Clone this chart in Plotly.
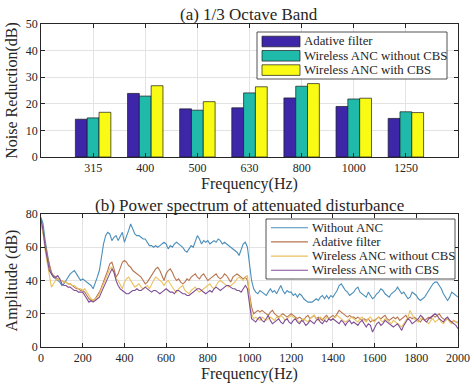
import plotly.graph_objects as go

# ---------------- (a) 1/3 octave band data ----------------
bands = ["315", "400", "500", "630", "800", "1000", "1250"]
adaptive_nr = [14.2, 23.9, 18.1, 18.5, 22.2, 19.0, 14.5]
wireless_nocbs_nr = [14.7, 22.9, 17.6, 24.1, 26.6, 21.8, 17.0]
wireless_cbs_nr = [16.8, 26.8, 20.8, 26.4, 27.6, 22.1, 16.7]

# ---------------- (b) power spectrum data (10 Hz grid) ----------------
freq = list(range(0, 2001, 10))
without_anc = [
    78, 74, 64, 55, 49, 44, 42, 41, 40, 39,
    37, 38, 40, 42, 44, 45, 46, 44, 42, 40,
    41, 40, 39, 38, 37, 35, 38, 42, 46, 55,
    62, 67, 69, 68, 64, 66, 67, 64, 67, 69,
    63, 66, 70, 74, 71, 68, 67, 67, 66, 65,
    65, 63, 61, 61, 60, 61, 60, 61, 62, 63,
    62, 59, 61, 60, 62, 63, 62, 61, 60, 58,
    57, 59, 61, 60, 64, 67, 65, 62, 64, 63,
    64, 62, 63, 64, 63, 65, 64, 62, 63, 62,
    61, 60, 59, 58, 57, 55, 59, 62, 63, 60,
    50, 40, 35, 33, 32, 34, 33, 32, 31, 33,
    35, 33, 34, 32, 35, 37, 34, 32, 34, 33,
    33, 31, 32, 30, 32, 31, 29, 28, 27, 27,
    27, 28, 29, 28, 30, 31, 29, 31, 29, 31,
    30, 32, 34, 37, 38, 36, 34, 33, 31, 32,
    33, 35, 36, 33, 32, 31, 30, 33, 31, 29,
    30, 32, 33, 35, 34, 32, 31, 30, 32, 33,
    34, 36, 34, 32, 33, 31, 29, 30, 33, 32,
    31, 29, 28, 29, 30, 32, 34, 36, 38, 39,
    39, 37, 35, 32, 30, 28, 30, 33, 32, 31,
    30,
]
adaptive_filter = [
    76, 70, 62, 55, 49, 45, 43, 42, 41, 40,
    40, 39, 39, 38, 38, 37, 36, 35, 35, 34,
    34, 33, 31, 29, 28, 28, 29, 31, 33, 36,
    39, 42, 46, 50, 51, 47, 42, 44, 48, 51,
    52, 51, 49, 48, 46, 45, 44, 43, 42, 40,
    38, 39, 41, 43, 45, 47, 48, 46, 43, 40,
    44, 46, 47, 45, 42, 40, 41, 39, 38, 39,
    41, 40, 42, 43, 44, 42, 41, 43, 44, 42,
    40, 41, 42, 43, 44, 42, 41, 42, 44, 43,
    41, 39, 42, 43, 44, 43, 42, 41, 42, 40,
    32, 24, 20, 21, 22, 21, 22, 21, 20, 19,
    21, 22, 20, 19, 18, 19, 20, 19, 18, 19,
    20, 19, 18, 17, 18, 17, 16, 18, 19, 17,
    18, 19, 17, 18, 17, 16, 18, 19, 17, 18,
    19, 18, 20, 22, 21, 20, 19, 18, 19, 18,
    18, 17, 18, 17, 16, 17, 16, 17, 15, 16,
    16, 17, 18, 17, 18, 19, 17, 16, 17, 18,
    17, 18, 16, 17, 18, 19, 17, 18, 17, 18,
    17, 16, 15, 17, 16, 17, 18, 17, 19, 18,
    19, 20, 18, 17, 16, 17, 16, 15, 16, 15,
    15,
]
wireless_nocbs = [
    74, 68, 58, 50, 42, 36, 38, 40, 41, 40,
    40, 39, 39, 38, 38, 37, 37, 36, 35, 35,
    34, 35, 33, 31, 29, 28, 29, 30, 32, 35,
    38, 41, 44, 47, 48, 44, 41, 40, 37, 35,
    39, 41, 42, 40, 38, 36, 37, 38, 36, 35,
    36, 37, 35, 38, 40, 42, 41, 40, 39, 37,
    39, 40, 38, 36, 34, 33, 35, 36, 37, 34,
    33, 32, 34, 35, 36, 34, 33, 34, 35, 36,
    37, 38, 36, 35, 37, 39, 40, 39, 38, 37,
    36, 37, 38, 39, 41, 42, 41, 40, 42, 43,
    30, 20, 17, 18, 17, 16, 18, 17, 16, 17,
    18, 17, 16, 18, 17, 19, 18, 16, 17, 18,
    19, 18, 17, 16, 15, 16, 17, 16, 15, 17,
    18, 19, 17, 16, 18, 17, 16, 18, 17, 16,
    17, 18, 19, 18, 17, 16, 15, 16, 17, 18,
    17, 16, 15, 17, 18, 16, 15, 17, 18, 16,
    15, 17, 18, 16, 15, 17, 16, 15, 14, 16,
    15, 14, 13, 12, 14, 16, 18, 22, 19, 17,
    16, 15, 17, 18, 16, 15, 14, 16, 17, 15,
    16, 17, 15, 14, 16, 17, 15, 14, 16, 15,
    14,
]
wireless_cbs = [
    77, 70, 60, 52, 46, 44, 42, 42, 43, 41,
    38, 37, 37, 36, 36, 35, 34, 34, 33, 33,
    33, 31, 29, 27, 28, 27, 28, 29, 30, 33,
    36, 39, 42, 45, 47, 45, 40, 37, 35, 34,
    33, 32, 32, 33, 34, 34, 35, 34, 34, 35,
    36, 35, 34, 33, 34, 34, 33, 32, 33, 34,
    35, 34, 33, 33, 32, 34, 34, 33, 32, 32,
    31, 31, 32, 33, 34, 35, 35, 34, 33, 32,
    33, 34, 33, 35, 36, 35, 34, 35, 36, 37,
    37, 36, 35, 35, 34, 34, 33, 35, 37, 35,
    25, 17, 16, 15, 17, 18, 16, 15, 17, 19,
    16, 14, 15, 16, 17, 15, 14, 16, 17, 15,
    14, 16, 17, 15, 14, 16, 15, 13, 14, 16,
    15, 14, 16, 17, 15, 14, 16, 15, 17, 16,
    17, 16, 15, 14, 16, 15, 13, 15, 16, 14,
    15, 14, 13, 15, 16, 14, 12, 14, 13, 9,
    12, 14, 15, 13, 14, 16, 15, 14, 13, 12,
    13, 14, 12, 10, 13, 15, 17, 16, 14, 15,
    16, 17, 19, 18, 16, 15, 17, 18, 19, 20,
    19, 17, 16, 15, 17, 18, 16, 15, 14, 13,
    11,
]

FONT = "Liberation Serif, Times New Roman, serif"
AX = "#262626"
GRID = "#e3e3e3"
W, H = 474, 384


def px(x):
    return x / W


def py(y):
    return 1 - y / H


fig = go.Figure()

bar_series = [
    ("Adative filter", adaptive_nr, "#3e26a8"),
    ("Wireless ANC without CBS", wireless_nocbs_nr, "#1fbaa9"),
    ("Wireless ANC with CBS", wireless_cbs_nr, "#f9fb15"),
]
for name, vals, col in bar_series:
    fig.add_trace(go.Bar(
        x=bands, y=vals, name=name, marker_color=col,
        marker_line_color="#1a1a1a", marker_line_width=0.7,
        xaxis="x", yaxis="y", showlegend=False,
    ))

line_series = [
    ("Without ANC", without_anc, "#4a8fbb"),
    ("Adative filter", adaptive_filter, "#b8744e"),
    ("Wireless ANC without CBS", wireless_nocbs, "#e9c25e"),
    ("Wireless ANC with CBS", wireless_cbs, "#7f4d96"),
]
for name, vals, col in line_series:
    fig.add_trace(go.Scatter(
        x=freq, y=vals, name=name, mode="lines",
        line=dict(color=col, width=1.1),
        xaxis="x2", yaxis="y2", showlegend=False,
    ))

# ---------- MATLAB-style legends (layout decoration) ----------
shapes = []
annotations = []
LEG_FONT = dict(family=FONT, size=12.8, color=AX)

# legend (a)
shapes.append(dict(type="rect", xref="paper", yref="paper",
                   x0=px(257), x1=px(447), y0=py(79), y1=py(32),
                   line=dict(color=AX, width=0.8), fillcolor="white", layer="above"))
for i, (name, _, col) in enumerate(bar_series):
    yc = 41.5 + i * 14.3
    shapes.append(dict(type="rect", xref="paper", yref="paper",
                       x0=px(262), x1=px(300), y0=py(yc + 5.3), y1=py(yc - 5.3),
                       line=dict(color="#1a1a1a", width=0.7), fillcolor=col, layer="above"))
    annotations.append(dict(text=name, x=px(302), y=py(yc), xref="paper", yref="paper",
                            xanchor="left", yanchor="middle", showarrow=False, font=LEG_FONT))

# legend (b)
shapes.append(dict(type="rect", xref="paper", yref="paper",
                   x0=px(266), x1=px(455), y0=py(279), y1=py(219),
                   line=dict(color=AX, width=0.8), fillcolor="white", layer="above"))
for i, (name, _, col) in enumerate(line_series):
    yc = 227.7 + i * 14.2
    shapes.append(dict(type="line", xref="paper", yref="paper",
                       x0=px(271), x1=px(308), y0=py(yc), y1=py(yc),
                       line=dict(color=col, width=1.1), layer="above"))
    annotations.append(dict(text=name, x=px(310), y=py(yc), xref="paper", yref="paper",
                            xanchor="left", yanchor="middle", showarrow=False, font=LEG_FONT))

TITLE_FONT = dict(family=FONT, size=17, color=AX)
annotations += [
    dict(text="(a) 1/3 Octave Band", x=px(249.5), y=py(14), xref="paper", yref="paper",
         xanchor="center", yanchor="middle", showarrow=False, font=TITLE_FONT),
    dict(text="(b) Power spectrum of attenuated disturbance", x=px(249.5), y=py(205),
         xref="paper", yref="paper", xanchor="center", yanchor="middle",
         showarrow=False, font=TITLE_FONT),
]

axis_common = dict(
    showline=True, linecolor=AX, linewidth=0.8, mirror="allticks",
    ticks="inside", ticklen=4, tickcolor=AX, tickwidth=0.8,
    showgrid=True, gridcolor=GRID, gridwidth=0.8, zeroline=False,
    automargin=False,
    tickfont=dict(family=FONT, size=12, color=AX),
)
AXT = dict(family=FONT, size=16, color=AX)

fig.update_layout(
    width=W, height=H,
    margin=dict(l=0, r=0, t=0, b=0, autoexpand=False),
    paper_bgcolor="white", plot_bgcolor="white",
    font=dict(family=FONT, color=AX),
    barmode="group", bargap=0.32, bargroupgap=0,
    showlegend=False,
    xaxis=dict(axis_common, domain=[px(41), px(458)], anchor="y",
               type="category", range=[-1, 7],
               title=dict(text="Frequency(Hz)", font=AXT, standoff=1)),
    yaxis=dict(axis_common, domain=[py(157), py(24)], anchor="x",
               range=[0, 50], tickvals=[0, 10, 20, 30, 40, 50],
               title=dict(text="Noise Reduction(dB)", font=AXT, standoff=4)),
    xaxis2=dict(axis_common, domain=[px(41), px(458)], anchor="y2",
                range=[0, 2000], tickvals=list(range(0, 2001, 200)),
                title=dict(text="Frequency(Hz)", font=AXT, standoff=0)),
    yaxis2=dict(axis_common, domain=[py(347), py(214)], anchor="x2",
                range=[0, 80], tickvals=[0, 20, 40, 60, 80],
                title=dict(text="Amplitude (dB)", font=AXT, standoff=4)),
    shapes=shapes,
    annotations=annotations,
)

fig.write_html(
    "out.html",
    config={"displayModeBar": False},
    post_script="document.body.style.margin='0';document.body.style.overflow='hidden';",
)
